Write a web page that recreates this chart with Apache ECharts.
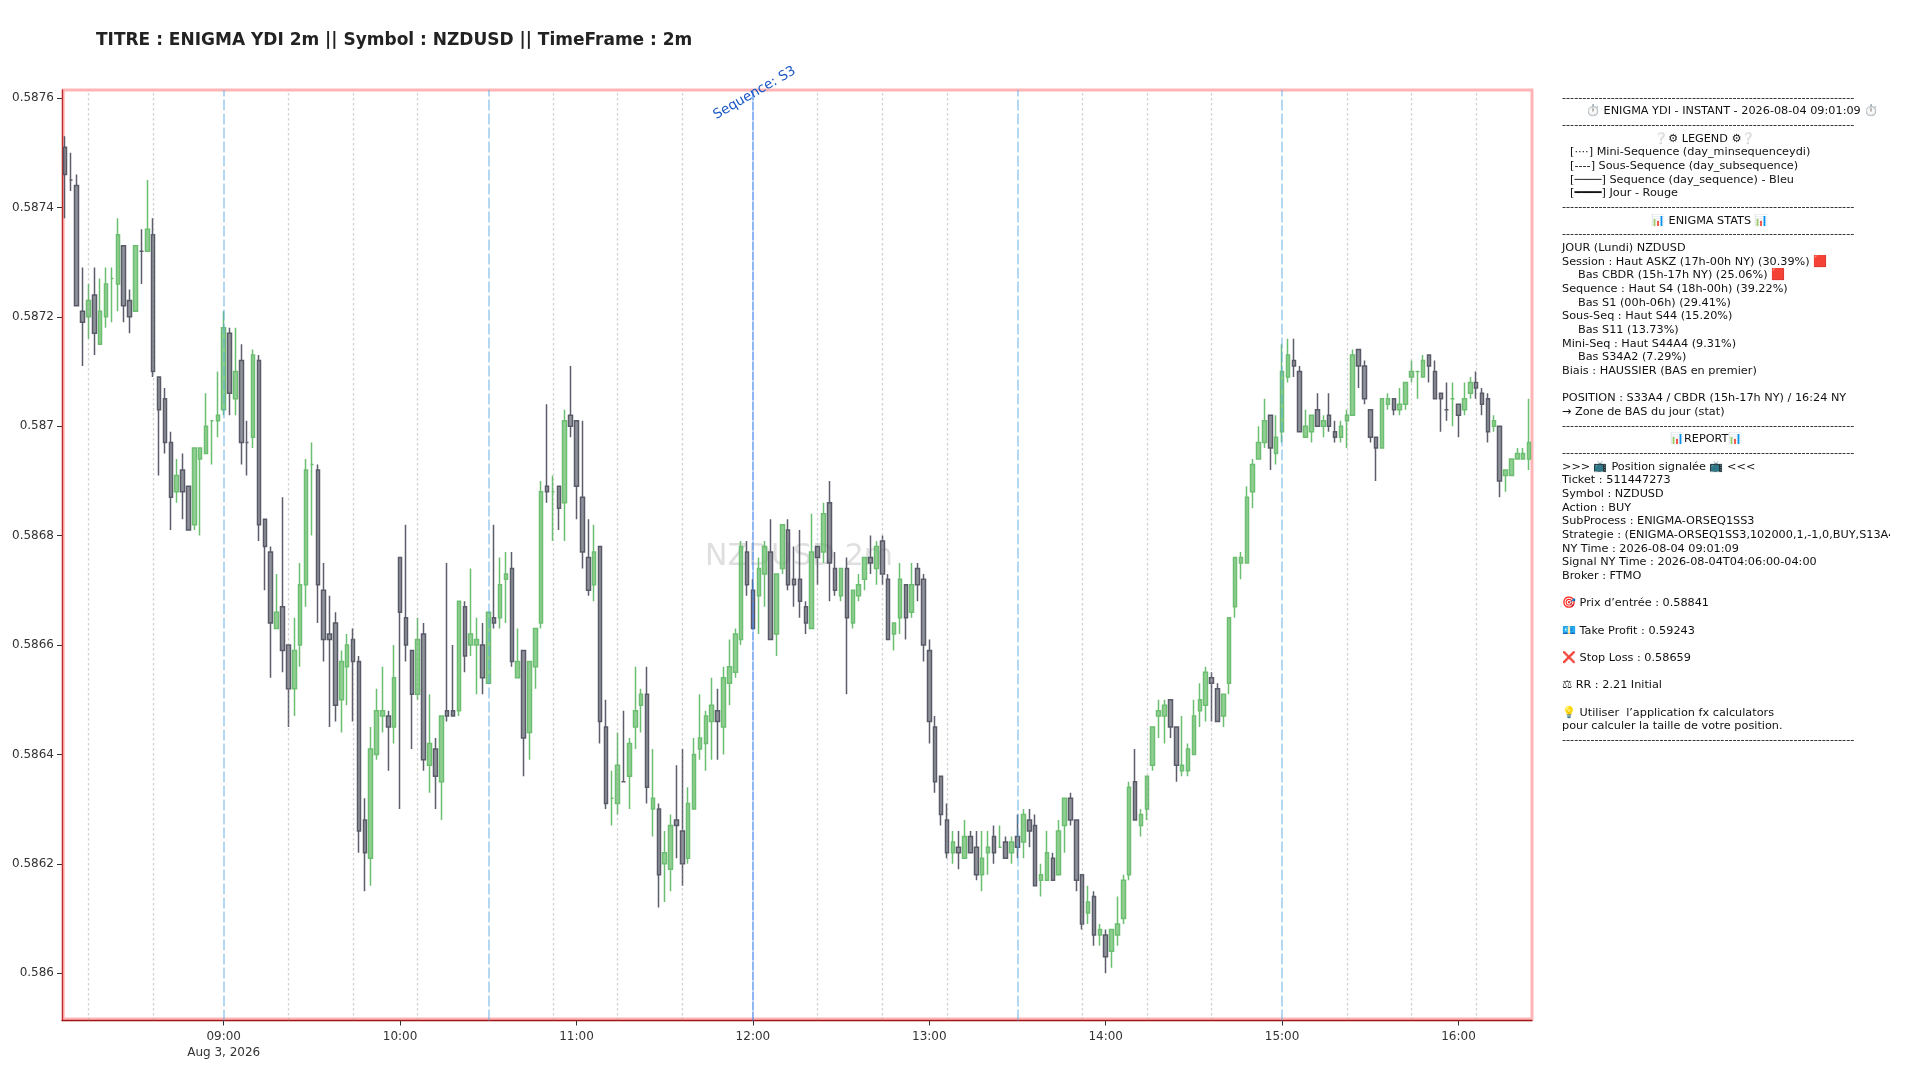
<!DOCTYPE html>
<html><head><meta charset="utf-8">
<style>html,body{margin:0;padding:0;background:#fff}#c{width:1920px;height:1080px}</style>
<script src="https://cdn.jsdelivr.net/npm/echarts@6/dist/echarts.min.js"></script>
</head><body><div id="c"></div>
<script>
const times=[
"08:06","08:08","08:10","08:12","08:14","08:16","08:18","08:20","08:22","08:24","08:26","08:28","08:30","08:32","08:34","08:36","08:38","08:40","08:42","08:44","08:46","08:48","08:50","08:52","08:54","08:56","08:58",
"09:00","09:02","09:04","09:06","09:08","09:10","09:12","09:14","09:16","09:18","09:20","09:22","09:24","09:26","09:28","09:30","09:32","09:34","09:36","09:38","09:40","09:42","09:44","09:46","09:48","09:50","09:52","09:54","09:56","09:58",
"10:00","10:02","10:04","10:06","10:08","10:10","10:12","10:14","10:16","10:18","10:20","10:22","10:24","10:26","10:28","10:30","10:32","10:34","10:36","10:38","10:40","10:42","10:44","10:46","10:48","10:50","10:52","10:54","10:56","10:58",
"11:00","11:02","11:04","11:06","11:08","11:10","11:12","11:14","11:16","11:18","11:20","11:22","11:24","11:26","11:28","11:30","11:32","11:34","11:36","11:38","11:40","11:42","11:44","11:46","11:48","11:50","11:52","11:54","11:56","11:58",
"12:00","12:02","12:04","12:06","12:08","12:10","12:12","12:14","12:16","12:18","12:20","12:22","12:24","12:26","12:28","12:30","12:32","12:34","12:36","12:38","12:40","12:42","12:44","12:46","12:48","12:50","12:52","12:54","12:56","12:58",
"13:00","13:02","13:04","13:06","13:08","13:10","13:12","13:14","13:16","13:18","13:20","13:22","13:24","13:26","13:28","13:30","13:32","13:34","13:36","13:38","13:40","13:42","13:44","13:46","13:48","13:50","13:52","13:54","13:56","13:58",
"14:00","14:02","14:04","14:06","14:08","14:10","14:12","14:14","14:16","14:18","14:20","14:22","14:24","14:26","14:28","14:30","14:32","14:34","14:36","14:38","14:40","14:42","14:44","14:46","14:48","14:50","14:52","14:54","14:56","14:58",
"15:00","15:02","15:04","15:06","15:08","15:10","15:12","15:14","15:16","15:18","15:20","15:22","15:24","15:26","15:28","15:30","15:32","15:34","15:36","15:38","15:40","15:42","15:44","15:46","15:48","15:50","15:52","15:54","15:56","15:58",
"16:00","16:02","16:04","16:06","16:08","16:10","16:12","16:14","16:16","16:18","16:20","16:22","16:24"];
const opens=[
.58751,.58745,.58744,.58721,.58720,.58724,.58715,.58720,.58727,.58726,
.58733,.58723,.58721,.58732,.58732,.58735,.58709,.58705,.58697,.58688,
.58692,.58689,.58682,.58694,.58695,.58701,.58701,.58703,.58717,.58705,
.58712,.58697,.58698,.58712,.58683,.58677,.58663,.58667,.58660,.58652,
.58660,.58671,.58693,.58692,.58670,.58662,.58664,.58650,.58656,.58661,
.58657,.58628,.58621,.58640,.58647,.58647,.58645,.58676,.58665,.58659,
.58651,.58662,.58638,.58641,.58635,.58648,.58648,.58648,.58667,.58660,
.58660,.58660,.58653,.58665,.58665,.58672,.58674,.58654,.58659,.58644,
.58656,.58664,.58689,.58688,.58689,.58686,.58702,.58701,.58687,.58676,
.58671,.58678,.58645,.58632,.58631,.58635,.58636,.58645,.58649,.58651,
.58630,.58630,.58620,.58619,.58628,.58626,.58621,.58630,.58641,.58642,
.58646,.58648,.58645,.58653,.58655,.58661,.58677,.58670,.58669,.58673,
.58677,.58662,.58674,.58681,.58672,.58672,.58667,.58663,.58678,.58677,
.58686,.58674,.58669,.58674,.58664,.58669,.58672,.58676,.58674,.58679,
.58672,.58662,.58665,.58671,.58666,.58674,.58672,.58659,.58645,.58636,
.58628,.58622,.58623,.58621,.58625,.58623,.58618,.58622,.58625,.58623,
.58624,.58622,.58625,.58624,.58628,.58627,.58617,.58617,.58621,.58618,
.58627,.58632,.58628,.58618,.58611,.58614,.58607,.58607,.58604,.58607,
.58610,.58618,.58635,.58627,.58630,.58638,.58647,.58647,.58650,.58645,
.58637,.58637,.58640,.58648,.58649,.58654,.58652,.58647,.58653,.58667,
.58675,.58675,.58688,.58694,.58697,.58702,.58695,.58699,.58709,.58712,
.58710,.58698,.58699,.58703,.58700,.58702,.58699,.58698,.58701,.58702,
.58714,.58711,.58703,.58698,.58696,.58704,.58705,.58703,.58704,.58709,
.58710,.58709,.58713,.58710,.58706,.58703,.58705,.58704,.58703,.58706,
.58708,.58706,.58705,.58700,.58700,.58691,.58691,.58694,.58694,.58694];
const closes=[
.58746,.58745,.58722,.58719,.58723,.58717,.58721,.58726,.58727,.58735,
.58722,.58720,.58733,.58732,.58736,.58710,.58703,.58697,.58687,.58691,
.58688,.58681,.58696,.58696,.58700,.58701,.58702,.58718,.58706,.58710,
.58697,.58697,.58713,.58682,.58678,.58664,.58666,.58659,.58652,.58659,
.58671,.58692,.58693,.58671,.58661,.58661,.58649,.58657,.58660,.58657,
.58626,.58622,.58641,.58648,.58648,.58645,.58654,.58666,.58660,.58651,
.58661,.58639,.58642,.58636,.58647,.58647,.58647,.58668,.58658,.58662,
.58661,.58654,.58666,.58664,.58671,.58673,.58657,.58657,.58643,.58657,
.58663,.58688,.58688,.58688,.58685,.58701,.58700,.58689,.58677,.58670,
.58677,.58646,.58631,.58632,.58638,.58635,.58642,.58648,.58651,.58634,
.58632,.58618,.58622,.58627,.58627,.58620,.58631,.58640,.58643,.58647,
.58649,.58646,.58654,.58656,.58662,.58678,.58671,.58663,.58674,.58678,
.58661,.58673,.58682,.58671,.58671,.58668,.58664,.58677,.58676,.58684,
.58675,.58670,.58674,.58665,.58670,.58671,.58676,.58675,.58678,.58673,
.58661,.58664,.58672,.58665,.58671,.58671,.58660,.58646,.58635,.58629,
.58622,.58624,.58622,.58625,.58622,.58618,.58621,.58623,.58622,.58623,
.58621,.58624,.58623,.58629,.58626,.58616,.58618,.58622,.58617,.58626,
.58632,.58628,.58617,.58609,.58613,.58607,.58608,.58603,.58608,.58609,
.58617,.58634,.58628,.58629,.58636,.58645,.58648,.58649,.58645,.58638,
.58638,.58641,.58647,.58650,.58655,.58653,.58646,.58651,.58665,.58676,
.58676,.58687,.58693,.58697,.58701,.58696,.58698,.58710,.58713,.58711,
.58699,.58700,.58702,.58700,.58701,.58700,.58698,.58700,.58702,.58713,
.58711,.58705,.58698,.58696,.58705,.58705,.58703,.58704,.58708,.58710,
.58710,.58712,.58711,.58705,.58705,.58703,.58705,.58702,.58705,.58708,
.58707,.58704,.58699,.58701,.58690,.58692,.58694,.58695,.58695,.58697];
const lows=[
.58738,.58743,.58722,.58711,.58716,.58713,.58715,.58718,.58719,.58721,
.58719,.58717,.58721,.58726,.58732,.58709,.58691,.58695,.58681,.58686,
.58683,.58681,.58681,.58680,.58695,.58693,.58698,.58702,.58702,.58702,
.58693,.58691,.58696,.58679,.58670,.58654,.58663,.58655,.58645,.58647,
.58656,.58667,.58680,.58664,.58657,.58645,.58646,.58644,.58649,.58646,
.58622,.58615,.58616,.58639,.58644,.58637,.58642,.58630,.58657,.58641,
.58650,.58637,.58633,.58630,.58628,.58646,.58647,.58647,.58655,.58658,
.58651,.58651,.58653,.58663,.58663,.58664,.58656,.58654,.58636,.58639,
.58652,.58663,.58686,.58679,.58681,.58679,.58698,.58683,.58674,.58669,
.58668,.58642,.58630,.58627,.58629,.58635,.58630,.58641,.58644,.58631,
.58625,.58612,.58613,.58615,.58621,.58616,.58620,.58630,.58639,.58637,
.58639,.58639,.58640,.58649,.58654,.58660,.58669,.58663,.58662,.58667,
.58661,.58658,.58673,.58670,.58667,.58665,.58662,.58663,.58671,.58675,
.58668,.58669,.58668,.58651,.58663,.58668,.58670,.58673,.58671,.58671,
.58661,.58659,.58662,.58661,.58665,.58668,.58657,.58642,.58633,.58627,
.58621,.58620,.58619,.58621,.58622,.58617,.58615,.58618,.58620,.58623,
.58621,.58620,.58621,.58621,.58623,.58616,.58614,.58617,.58617,.58618,
.58622,.58627,.58615,.58608,.58609,.58605,.58605,.58600,.58601,.58605,
.58609,.58617,.58628,.58625,.58628,.58637,.58643,.58642,.58643,.58635,
.58636,.58636,.58640,.58645,.58646,.58646,.58646,.58645,.58651,.58665,
.58672,.58675,.58685,.58694,.58696,.58692,.58693,.58697,.58708,.58709,
.58699,.58698,.58697,.58700,.58698,.58699,.58697,.58697,.58696,.58702,
.58707,.58704,.58697,.58690,.58696,.58703,.58702,.58702,.58703,.58708,
.58705,.58709,.58708,.58705,.58699,.58701,.58700,.58698,.58702,.58705,
.58705,.58702,.58697,.58699,.58687,.58688,.58691,.58694,.58694,.58692];
const highs=[
.58753,.58750,.58746,.58729,.58726,.58729,.58727,.58729,.58729,.58738,
.58733,.58725,.58733,.58736,.58745,.58738,.58709,.58707,.58699,.58694,
.58695,.58689,.58696,.58696,.58706,.58701,.58710,.58721,.58718,.58718,
.58715,.58701,.58714,.58713,.58683,.58678,.58673,.58687,.58660,.58665,
.58675,.58694,.58697,.58693,.58675,.58669,.58666,.58659,.58662,.58663,
.58658,.58632,.58645,.58652,.58656,.58648,.58660,.58676,.58682,.58659,
.58665,.58664,.58651,.58643,.58647,.58675,.58660,.58668,.58668,.58674,
.58665,.58664,.58666,.58682,.58676,.58677,.58677,.58663,.58659,.58657,
.58663,.58690,.58704,.58691,.58689,.58703,.58711,.58701,.58701,.58683,
.58682,.58678,.58650,.58637,.58644,.58648,.58643,.58656,.58652,.58656,
.58641,.58631,.58626,.58629,.58638,.58641,.58634,.58643,.58651,.58648,
.58654,.58652,.58656,.58661,.58663,.58679,.58679,.58672,.58676,.58679,
.58683,.58673,.58682,.58683,.58678,.58681,.58668,.58684,.58678,.58686,
.58690,.58677,.58674,.58676,.58670,.58673,.58676,.58680,.58679,.58680,
.58673,.58664,.58675,.58671,.58675,.58675,.58673,.58661,.58647,.58636,
.58631,.58626,.58626,.58628,.58626,.58626,.58626,.58626,.58627,.58627,
.58625,.58625,.58629,.58630,.58630,.58629,.58620,.58626,.58622,.58628,
.58632,.58633,.58628,.58618,.58616,.58615,.58609,.58608,.58608,.58614,
.58618,.58635,.58641,.58630,.58636,.58645,.58650,.58650,.58650,.58645,
.58647,.58642,.58650,.58653,.58656,.58655,.58653,.58651,.58665,.58676,
.58677,.58689,.58694,.58700,.58705,.58702,.58702,.58715,.58716,.58716,
.58711,.58703,.58702,.58706,.58702,.58706,.58701,.58701,.58703,.58714,
.58714,.58712,.58703,.58698,.58705,.58706,.58705,.58707,.58708,.58712,
.58710,.58713,.58713,.58712,.58706,.58708,.58708,.58704,.58708,.58709,
.58710,.58707,.58706,.58702,.58700,.58692,.58694,.58696,.58696,.58705];
const grayDojis=["08:08","08:32","09:08","11:16","15:56"];
const hourTicks=["09:00","10:00","11:00","12:00","13:00","14:00","15:00","16:00"];
const priceTicks=[0.5876,0.5874,0.5872,0.587,0.5868,0.5866,0.5864,0.5862,0.586];
const miniLines=["08:14","08:36","09:22","09:44","10:06","10:52","11:14","11:36","12:22","12:44","13:06","13:52","14:14","14:36","15:22","15:44","16:06"];
const subLines=["09:00","10:30","13:30","15:00"];
const seqLines=["12:00"];
const dash="-".repeat(72);
const panelLines=[
[dash,0],
["⏱️ ENIGMA YDI - INSTANT - 2026-08-04 09:01:09 ⏱️",24],
[dash,0],
["❔⚙ LEGEND ⚙❔",92],
["[····] Mini-Sequence (day_minsequenceydi)",8],
["[----] Sous-Sequence (day_subsequence)",8],
["[────] Sequence (day_sequence) - Bleu",8],
["[━━━━] Jour - Rouge",8],
[dash,0],
["📊 ENIGMA STATS 📊",89],
[dash,0],
["JOUR (Lundi) NZDUSD",0],
["Session : Haut ASKZ (17h-00h NY) (30.39%) 🟥",0],
["Bas CBDR (15h-17h NY) (25.06%) 🟥",16],
["Sequence : Haut S4 (18h-00h) (39.22%)",0],
["Bas S1 (00h-06h) (29.41%)",16],
["Sous-Seq : Haut S44 (15.20%)",0],
["Bas S11 (13.73%)",16],
["Mini-Seq : Haut S44A4 (9.31%)",0],
["Bas S34A2 (7.29%)",16],
["Biais : HAUSSIER (BAS en premier)",0],
["",0],
["POSITION : S33A4 / CBDR (15h-17h NY) / 16:24 NY",0],
["→ Zone de BAS du jour (stat)",0],
[dash,0],
["📊REPORT📊",108],
[dash,0],
[">>> 📺 Position signalée 📺 <<<",0],
["Ticket : 511447273",0],
["Symbol : NZDUSD",0],
["Action : BUY",0],
["SubProcess : ENIGMA-ORSEQ1SS3",0],
["Strategie : (ENIGMA-ORSEQ1SS3,102000,1,-1,0,BUY,S13A4",0],
["NY Time : 2026-08-04 09:01:09",0],
["Signal NY Time : 2026-08-04T04:06:00-04:00",0],
["Broker : FTMO",0],
["",0],
["🎯 Prix d’entrée : 0.58841",0],
["",0],
["💶 Take Profit : 0.59243",0],
["",0],
["❌ Stop Loss : 0.58659",0],
["",0],
["⚖ RR : 2.21 Initial",0],
["",0],
["💡 Utiliser  l’application fx calculators",0],
["pour calculer la taille de votre position.",0],
[dash,0]];

const FONT='"DejaVu Sans","Noto Color Emoji",sans-serif';
const UP_FILL='rgba(102,187,106,0.72)',UP_LINE='#6cbf70';
const DN_FILL='rgba(78,80,94,0.62)',DN_LINE='rgba(78,80,94,0.92)';
const candles=times.map((t,i)=>{
  const item={value:[opens[i],closes[i],lows[i],highs[i]]};
  if(opens[i]===closes[i]){
    const gray=grayDojis.includes(t);
    item.itemStyle={color:gray?DN_FILL:UP_FILL,color0:gray?DN_FILL:UP_FILL,borderColor:gray?DN_LINE:UP_LINE,borderColor0:gray?DN_LINE:UP_LINE,borderColorDoji:gray?DN_LINE:UP_LINE};
  }
  return item;
});
const marks=[
 ...miniLines.map(t=>({xAxis:t,lineStyle:{color:'rgba(150,150,150,0.42)',width:1.3,type:[2.5,2.5]}})),
 ...subLines.map(t=>({xAxis:t,lineStyle:{color:'rgba(90,170,225,0.6)',width:1.5,type:[11,3]}})),
 ...seqLines.map(t=>({xAxis:t,lineStyle:{color:'rgba(60,130,235,0.72)',width:1.6,type:[9,1]}}))
];
const PANEL_X=1562,PANEL_Y=97.7,ROW=13.666;
const graphics=[];
panelLines.forEach((l,n)=>{
  if(!l[0])return;
  graphics.push({type:'text',x:PANEL_X+l[1],y:PANEL_Y+ROW*n,z:10,silent:true,
    style:{text:l[0],font:'11.25px '+FONT,fill:'#111',verticalAlign:'middle'}});
});
graphics.push({type:'rect',shape:{x:1890,y:0,width:30,height:1080},z:20,silent:true,style:{fill:'#fff'}});
graphics.push({type:'text',x:96,y:41,z:10,silent:true,style:{text:'TITRE : ENIGMA YDI 2m || Symbol : NZDUSD || TimeFrame : 2m',font:'bold 17px '+FONT,fill:'#222',verticalAlign:'middle'}});
graphics.push({type:'text',x:705,y:557,z:0,silent:true,style:{text:'NZDUSD 2m',font:'30px '+FONT,fill:'rgba(150,150,150,0.3)',verticalAlign:'middle'}});
graphics.push({type:'rect',shape:{x:63.2,y:90,width:1468.8,height:929},z:1,silent:true,style:{fill:'none',stroke:'rgba(255,90,90,0.45)',lineWidth:3}});

const chart=echarts.init(document.getElementById('c'),null,{renderer:'canvas'});
chart.setOption({
 animation:false,backgroundColor:'#fff',
 textStyle:{fontFamily:FONT},
 grid:{left:62,right:388,top:90,bottom:59.5,show:false},
 xAxis:{type:'category',data:times,boundaryGap:true,
   axisLine:{show:true,lineStyle:{color:'#8b0000',width:1.3}},
   axisTick:{show:true,alignWithLabel:true,interval:(i,n)=>hourTicks.includes(n),length:5,lineStyle:{color:'#333',width:1}},
   axisLabel:{show:true,interval:(i,n)=>hourTicks.includes(n),color:'#333',fontSize:12,fontFamily:FONT,lineHeight:16,margin:8,
     formatter:v=>v==='09:00'?'09:00\nAug 3, 2026':v},
   splitLine:{show:false}},
 yAxis:{type:'value',min:0.5859135,max:0.5876146,position:'left',
   axisLine:{show:true,lineStyle:{color:'#8b0000',width:1.3}},
   axisTick:{show:true,length:5,lineStyle:{color:'#333',width:1},customValues:priceTicks},
   axisLabel:{show:true,color:'#333',fontSize:12,fontFamily:FONT,margin:8,customValues:priceTicks,formatter:v=>String(v)},
   splitLine:{show:false}},
 series:[{type:'candlestick',data:candles,barWidth:4,clip:true,
   itemStyle:{color:UP_FILL,color0:DN_FILL,borderColor:UP_LINE,borderColor0:DN_LINE,borderWidth:1.5},
   markLine:{silent:true,symbol:'none',animation:false,label:{show:false},data:marks},
   markPoint:{silent:true,symbol:'circle',symbolSize:1,itemStyle:{color:'rgba(0,0,0,0)'},animation:false,z:12,data:[{coord:['12:00',0.5876146],
     label:{show:true,formatter:'Sequence: S3',color:'#1a56c4',fontSize:13.5,fontFamily:FONT,rotate:30,position:'inside',offset:[0,3.5]}}]}
 }],
 graphic:graphics
});
</script></body></html>
